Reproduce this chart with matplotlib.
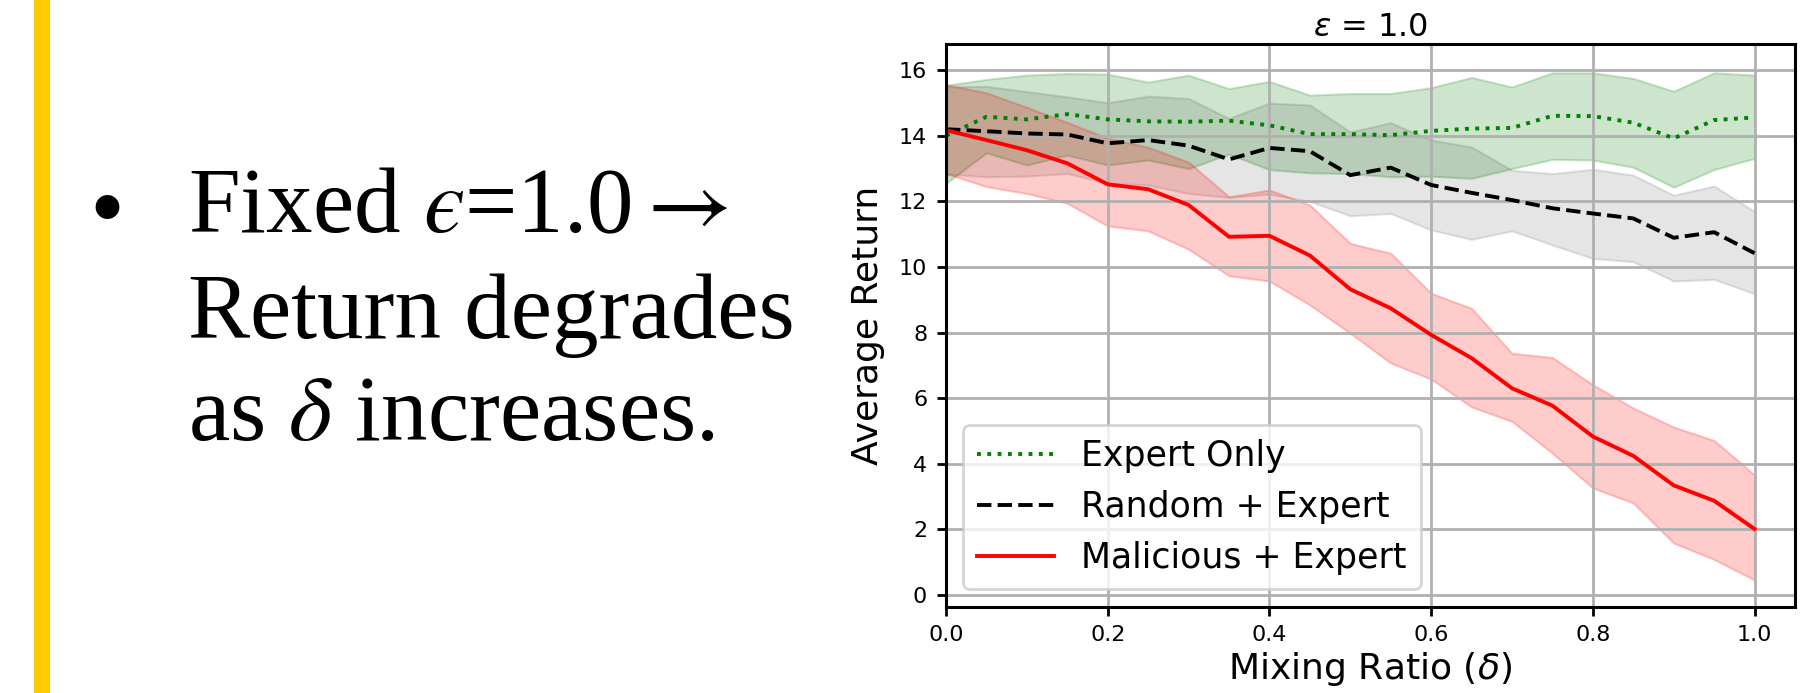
import matplotlib
matplotlib.use("Agg")
import matplotlib.pyplot as plt
from matplotlib.patches import Rectangle

W, H = 1806, 693

# mixing ratio delta on the x axis
delta = [0.0, 0.05, 0.1, 0.15, 0.2, 0.25, 0.3, 0.35, 0.4, 0.45, 0.5,
         0.55, 0.6, 0.65, 0.7, 0.75, 0.8, 0.85, 0.9, 0.95, 1.0]

expert_mean = [14.00, 14.58, 14.50, 14.66, 14.50, 14.44, 14.43, 14.46, 14.32, 14.05, 14.05,
               14.02, 14.15, 14.22, 14.24, 14.61, 14.60, 14.40, 13.92, 14.48, 14.56]
expert_hi = [15.54, 15.72, 15.85, 15.90, 15.88, 15.64, 15.85, 15.44, 15.66, 15.24, 15.29,
             15.29, 15.47, 15.78, 15.49, 15.92, 15.92, 15.75, 15.36, 15.92, 15.85]
expert_lo = [12.55, 13.48, 13.11, 13.41, 13.11, 13.26, 13.00, 13.44, 12.97, 12.87, 12.85,
             12.75, 12.77, 12.70, 13.00, 13.28, 13.26, 13.04, 12.43, 12.97, 13.31]

random_mean = [14.20, 14.14, 14.07, 14.04, 13.77, 13.87, 13.70, 13.28, 13.63, 13.53, 12.80,
               13.03, 12.50, 12.26, 12.04, 11.79, 11.63, 11.48, 10.89, 11.06, 10.42]
random_hi = [15.49, 15.51, 15.35, 15.19, 15.01, 15.21, 15.14, 14.53, 15.00, 14.94, 14.12,
             14.40, 13.87, 13.66, 12.95, 12.85, 12.98, 12.80, 12.19, 12.47, 11.69]
random_lo = [12.83, 12.75, 12.77, 12.85, 12.55, 12.50, 12.24, 12.12, 12.22, 12.00, 11.56,
             11.63, 11.13, 10.84, 11.10, 10.67, 10.26, 10.16, 9.57, 9.62, 9.18]

malicious_mean = [14.17, 13.87, 13.56, 13.16, 12.52, 12.37, 11.89, 10.92, 10.95, 10.35, 9.32,
                  8.74, 7.93, 7.22, 6.30, 5.77, 4.83, 4.24, 3.34, 2.87, 2.01]
malicious_hi = [15.56, 15.31, 14.87, 14.41, 13.93, 13.65, 13.20, 12.14, 12.35, 11.89, 10.72,
                10.42, 9.20, 8.74, 7.37, 7.24, 6.41, 5.70, 5.12, 4.71, 3.66]
malicious_lo = [12.85, 12.45, 12.24, 11.94, 11.25, 11.10, 10.54, 9.73, 9.57, 8.84, 7.98,
                7.07, 6.58, 5.73, 5.29, 4.32, 3.26, 2.80, 1.58, 1.08, 0.45]

labels = ["Expert Only", "Random + Expert", "Malicious + Expert"]
bullet_lines = ["Fixed $\u03f5$=1.0$\\rightarrow$", "Return degrades", r"as $\delta$ increases."]


def main() -> None:
    plt.rcParams["font.family"] = ["DejaVu Sans"]
    fig = plt.figure(figsize=(W / 100, H / 100), dpi=100)

    # slide decoration + bullet text
    fig.add_artist(Rectangle((34 / W, 0), 16 / W, 1, transform=fig.transFigure,
                             facecolor="#ffcc00", edgecolor="none"))
    fig.text(89 / W, 1 - 240 / H, "•", fontsize=72, family="Liberation Serif",
             va="baseline", ha="left")
    for line, base in zip(bullet_lines, [232, 338, 440]):
        fig.text(188 / W, 1 - base / H, line, fontsize=67, family="Liberation Serif",
                 math_fontfamily="stix", va="baseline", ha="left")

    ax = fig.add_axes([946 / W, 1 - 606.7 / H, 849 / W, 562.4 / H])
    ax.fill_between(delta, expert_lo, expert_hi, color="g", alpha=0.2, linewidth=1.5)
    ax.fill_between(delta, random_lo, random_hi, color="k", alpha=0.1, linewidth=1.5)
    ax.fill_between(delta, malicious_lo, malicious_hi, color="r", alpha=0.2, linewidth=1.5)
    ax.plot(delta, expert_mean, "g:", linewidth=2.8, label=labels[0])
    ax.plot(delta, random_mean, "k--", linewidth=2.8, label=labels[1])
    ax.plot(delta, malicious_mean, "r-", linewidth=2.8, label=labels[2])

    ax.set_xlim(0, 1.05)
    ax.set_ylim(-0.36, 16.79)
    ax.set_xticks([0.0, 0.2, 0.4, 0.6, 0.8, 1.0])
    ax.set_yticks(range(0, 17, 2))
    ax.tick_params(labelsize=16, length=6.5, width=2, pad=7)
    ax.grid(True, color="#b0b0b0", linewidth=2)
    for spine in ax.spines.values():
        spine.set_linewidth(2.2)

    ax.set_title(r"$\varepsilon$ = 1.0", fontsize=23, math_fontfamily="dejavusans", pad=6)
    ax.set_xlabel(r"Mixing Ratio ($\delta$)", fontsize=26, math_fontfamily="dejavusans", labelpad=3)
    ax.set_ylabel("Average Return", fontsize=26, labelpad=10)

    leg = ax.legend(loc="lower left", fontsize=25, handlelength=2.2, labelspacing=0.5,
                    framealpha=0.8)
    leg.get_frame().set_linewidth(2)

    fig.savefig("out.png", dpi=100)


if __name__ == "__main__":
    main()
